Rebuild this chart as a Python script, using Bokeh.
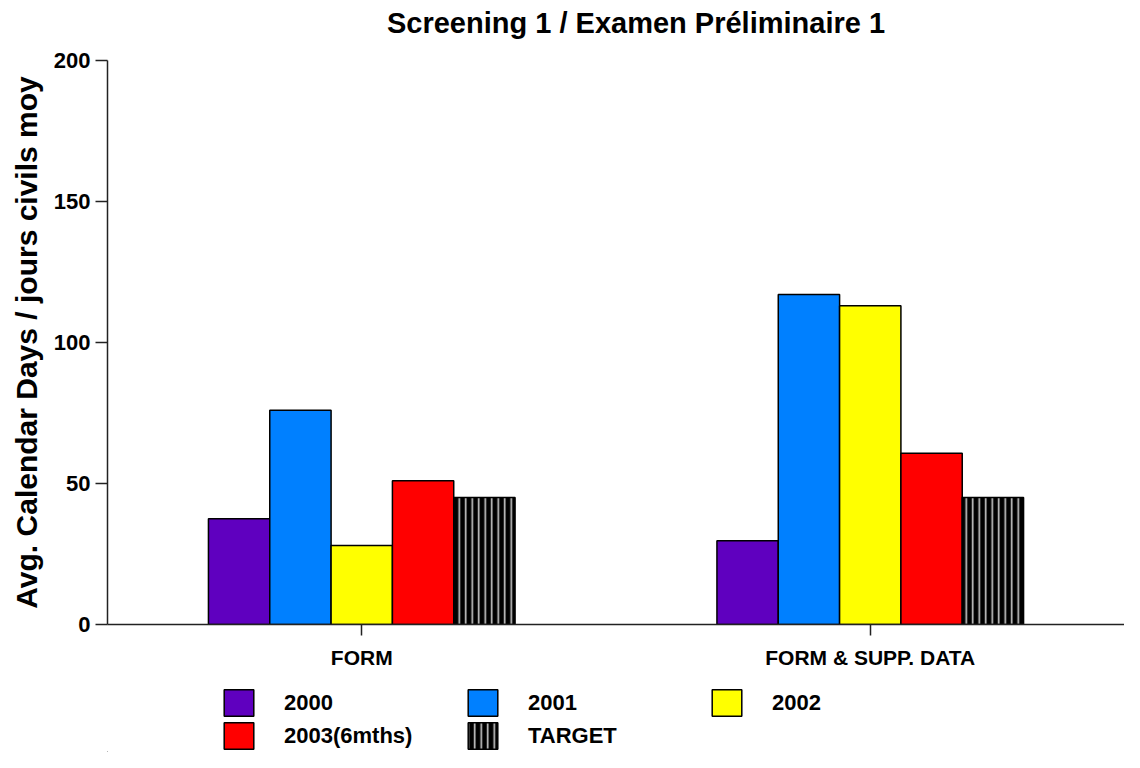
from bokeh.plotting import figure
from bokeh.layouts import column
from bokeh.models import (ColumnDataSource, FactorRange, FixedTicker, Legend, LegendItem, Label, Range1d)
from bokeh.transform import dodge
from bokeh.embed import file_html
from bokeh.resources import INLINE

title_text = "Screening 1 / Examen Préliminaire 1"
y_label = "Avg. Calendar Days / jours civils moy"
categories = ["FORM", "FORM & SUPP. DATA"]
series_names = ["2000", "2001", "2002", "2003(6mths)", "TARGET"]
v2000 = [37.5, 29.7]
v2001 = [76, 117]
v2002 = [28, 113]
v2003 = [51, 60.7]
target = [45, 45]
y_ticks = [0, 50, 100, 150, 200]

colors = ["#5F00BF", "#0080FF", "#FFFF00", "#FF0000", "#000000"]

FONT = "Liberation Sans"


def bare(fig):
    fig.outline_line_color = None
    fig.xgrid.grid_line_color = None
    fig.ygrid.grid_line_color = None


# title strip
tf = figure(width=1124, height=44, output_backend="svg", toolbar_location=None,
            x_axis_location=None, y_axis_location=None,
            x_range=Range1d(0, 1), y_range=Range1d(0, 1),
            min_border_left=107, min_border_right=0, min_border_top=0, min_border_bottom=0)
bare(tf)
tf.add_layout(Label(x=0.5, y=0.5, x_offset=20, text=title_text, text_align="center",
                    text_baseline="middle", text_font=FONT, text_font_size="29px",
                    text_font_style="bold", text_color="black"))

src = ColumnDataSource(dict(cat=categories, v2000=v2000, v2001=v2001,
                            v2002=v2002, v2003=v2003, target=target))

p = figure(width=1124, height=636, x_range=FactorRange(*categories), y_range=(0, 200),
           output_backend="svg", toolbar_location=None,
           min_border_left=107, min_border_right=0, min_border_top=16, min_border_bottom=56)
bare(p)
p.x_range.range_padding = 0

w = 0.1206
offsets = [-2 * w, -w, 0, w, 2 * w]
cols = ["v2000", "v2001", "v2002", "v2003", "target"]
hatch = dict(hatch_pattern="|", hatch_color="#d0d0d0", hatch_weight=1.6, hatch_scale=6.5)
for i, c in enumerate(cols):
    kw = dict(x=dodge("cat", offsets[i], range=p.x_range), top=c, width=w, source=src,
              fill_color=colors[i], line_color="black", line_width=1.5)
    if c == "target":
        kw.update(hatch)
    p.vbar(**kw)

# y axis
ya = p.yaxis[0]
ya.ticker = FixedTicker(ticks=y_ticks)
ya.axis_label = y_label
ya.axis_label_text_font = FONT
ya.axis_label_text_font_size = "30px"
ya.axis_label_text_font_style = "bold"
ya.axis_label_text_color = "black"
ya.axis_label_standoff = 8
ya.major_label_text_font = FONT
ya.major_label_text_font_size = "22px"
ya.major_label_text_font_style = "bold"
ya.major_label_text_color = "black"
ya.major_label_standoff = 5
ya.major_tick_in = 0
ya.major_tick_out = 12
ya.minor_tick_line_color = None
ya.axis_line_color = "#222222"
ya.axis_line_width = 1.5
ya.major_tick_line_color = "#222222"
ya.major_tick_line_width = 1.5

# x axis
xa = p.xaxis[0]
xa.major_label_text_font = FONT
xa.major_label_text_font_size = "21px"
xa.major_label_text_font_style = "bold"
xa.major_label_text_color = "black"
xa.major_label_standoff = 10
xa.major_tick_in = 0
xa.major_tick_out = 11
xa.axis_line_color = "#222222"
xa.axis_line_width = 1.5
xa.major_tick_line_color = "#222222"
xa.major_tick_line_width = 1.5

# legend strip (swatches only; their bars lie outside the visible range)
lf = figure(width=1124, height=72, output_backend="svg", toolbar_location=None,
            x_axis_location=None, y_axis_location=None,
            x_range=Range1d(0, 1), y_range=Range1d(0, 1),
            min_border_left=107, min_border_right=0, min_border_top=0, min_border_bottom=0)
bare(lf)
swatch = ColumnDataSource(dict(x=[-10], top=[0]))
lrs = []
for i in range(5):
    kw = dict(x="x", top="top", width=1, source=swatch, fill_color=colors[i],
              line_color="black", line_width=1.5)
    if i == 4:
        kw.update(hatch)
    lrs.append(lf.vbar(**kw))

items = [LegendItem(label=series_names[i], renderers=[lrs[i]]) for i in range(5)]
legend = Legend(items=items, location=(113, 0), orientation="horizontal", ncols=3,
                glyph_width=37, glyph_height=33, label_standoff=27, label_width=180,
                spacing=0, padding=0, margin=0, border_line_color=None,
                background_fill_alpha=0,
                label_text_font=FONT, label_text_font_size="22px",
                label_text_font_style="bold", label_text_color="black")
lf.add_layout(legend, "center")

layout = column(tf, p, lf, spacing=0)
open("out.html", "w").write(file_html(layout, INLINE))
